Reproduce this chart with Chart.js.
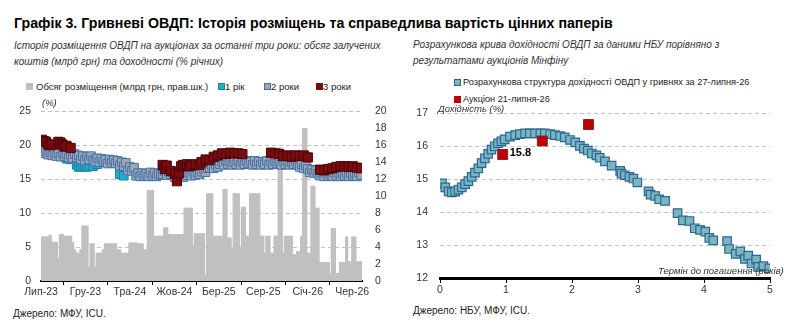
<!DOCTYPE html>
<html>
<head>
<meta charset="utf-8">
<script src="https://cdn.jsdelivr.net/npm/chart.js@4.4.1/dist/chart.umd.min.js"></script>
<style>
  body { margin: 0; width: 800px; height: 328px; background: #fff; position: relative; overflow: hidden;
         font-family: "Liberation Sans", Arial, sans-serif; }
  .t { position: absolute; white-space: nowrap; line-height: 1; color: #000; }
  .title { font-weight: bold; font-size: 14.2px; }
  .sub { font-style: italic; font-size: 10px; line-height: 16px; color: #333; }
  .leg { font-size: 9.5px; color: #222; }
  .legr { font-size: 9.2px; color: #222; }
  .sq { position: absolute; width: 7px; height: 7px; box-sizing: border-box; }
  .src { font-size: 10px; color: #222; }
  .ax { font-style: italic; font-size: 9.5px; color: #333; background: #fff; }
  .box { position: absolute; }
</style>
</head>
<body>
<div class="t title" style="left:14px;top:16px">Графік 3. Гривневі ОВДП: Історія розміщень та справедлива вартість цінних паперів</div>
<div class="t sub" style="left:14px;top:37.5px">Історія розміщення ОВДП на аукціонах за останні три роки: обсяг залучених<br>коштів (млрд грн) та доходності (% річних)</div>
<div class="t sub" style="left:413px;top:36.5px">Розрахункова крива дохідності ОВДП за даними НБУ порівняно з<br>результатами аукціонів Мінфіну</div>

<div class="sq" style="left:26px;top:83px;background:#bfbfbf"></div>
<div class="t leg" style="left:36px;top:81.5px">Обсяг розміщення (млрд грн, прав.шк.)</div>
<div class="sq" style="left:218px;top:83px;background:#1fb0c4;border:1px solid #1f7fa8"></div>
<div class="t leg" style="left:225px;top:81.5px">1 рік</div>
<div class="sq" style="left:264px;top:83px;background:#a6a6a6;border:1px solid #3a72b8"></div>
<div class="t leg" style="left:271px;top:81.5px">2 роки</div>
<div class="sq" style="left:316px;top:83px;background:#7a0c10"></div>
<div class="t leg" style="left:323px;top:81.5px">3 роки</div>

<div class="sq" style="left:454px;top:79px;background:#78b7bd;border:1px solid #2f6496"></div>
<div class="t legr" style="left:463px;top:78px">Розрахункова структура дохідності ОВДП у гривнях за 27-липня-26</div>
<div class="sq" style="left:454px;top:96px;background:#c00000"></div>
<div class="t legr" style="left:463px;top:94.5px">Аукціон 21-липня-26</div>

<div class="box" style="left:0;top:95px;width:400px;height:205px"><canvas id="leftChart"></canvas></div>
<div class="box" style="left:400px;top:95px;width:400px;height:205px"><canvas id="rightChart"></canvas></div>

<div class="t ax" style="left:42px;top:98px;padding-right:3px">(%)</div>
<div class="t ax" style="left:438px;top:103.5px;padding-right:3px">Дохідність (%)</div>
<div class="t ax" style="left:658px;top:266px;background:transparent">Термін до погашення (років)</div>

<div class="t src" style="left:13px;top:308.5px">Джерело: МФУ, ICU.</div>
<div class="t src" style="left:413px;top:305.5px">Джерело: НБУ, МФУ, ICU.</div>

<script>
const FONT = "'Liberation Sans', Arial, sans-serif";

// ліва панель: тижневі аукціони з липня 2023 (індекс = тиждень)
const tickLabels = ["Лип-23", "Гру-23", "Тра-24", "Жов-24", "Бер-25", "Сер-25", "Січ-26", "Чер-26"];
const tickMonths = [0, 5, 10, 15, 20, 25, 30, 35];

// обсяг розміщення, млрд грн (права шкала)
const volume = [
  5.2, 5.2, 5.2, 5.2, 5.4, 4.6, 4.6, 4.6, 2.6, 5.5,
  5.5, 5.3, 5.3, 5.3, 5.3, 4.6, 3.7, 3.3, 3.3, 3.7,
  6.5, 6.5, 6.5, 1.6, 4.4, 4.4, 1.7, 3.3, 3.3, 3.3,
  3.7, 4.4, 4.4, 4.4, 4.4, 4.4, 4.4, 3.7, 3.7, 3.3,
  3.3, 3.3, 3.3, 4.5, 4.5, 4.5, 4.5, 4.4, 4.4, 4.4,
  3.7, 3.7, 10.7, 10.7, 10.7, 5.3, 5.3, 5.3, 5.3, 5.3,
  6.3, 6.3, 5.5, 5.5, 5.5, 5.5, 5.5, 5.5, 5.5, 5.5,
  8.6, 8.6, 8.6, 8.6, 4.2, 5.6, 5.6, 5.6, 5.6, 5.6,
  0.7, 10.3, 10.3, 10.3, 5.3, 5.3, 5.3, 5.3, 5.3, 10.8,
  10.8, 5.1, 5.1, 3.8, 10.3, 10.3, 10.3, 3.8, 8.7, 8.7,
  5.3, 5.3, 10.3, 10.3, 10.3, 10.3, 10.3, 5.3, 5.3, 3.3,
  5.3, 5.3, 3.3, 3.3, 5.3, 5.3, 15.7, 15.7, 3.3, 5.3,
  5.3, 5.3, 5.3, 3.1, 3.1, 3.5, 3.5, 5.3, 18.0, 18.0,
  3.3, 3.3, 11.2, 11.2, 8.6, 8.6, 2.2, 2.2, 2.2, 2.2,
  2.2, 0.9, 6.2, 6.2, 0.9, 0.9, 2.2, 2.2, 2.2, 5.2,
  2.3, 2.3, 5.2, 5.2, 2.3, 2.3, 2.3
];

// дохідність 2-річних паперів, % (по тижнях)
const twoYear = [
  19.3, 18.8, 19.1, 18.6, 19.0, 18.5, 18.9, 18.4, 18.8, 18.3,
  18.9, 18.4, 18.7, 18.2, 18.6, 18.1, 18.7, 18.2, 18.5, 17.9,
  18.4, 17.8, 18.3, 17.9, 18.4, 17.8, 17.6, 18.1, 17.5, 18.0,
  17.6, 17.9, 17.3, 17.9, 17.4, 17.8, 17.3, 17.7, 17.0, 17.5,
  16.9, 17.4, 16.3, 16.8, 16.2, 16.7, 15.5, 15.9, 15.4, 15.9,
  15.5, 15.8, 15.4, 16.0, 15.5, 15.9, 15.4, 15.8, 15.6, 15.7,
  16.2, 15.6, 16.1, 15.7, 16.0, 15.3, 15.8, 15.4, 15.9, 15.3,
  15.7, 15.6, 16.0, 15.5, 16.1, 15.6, 16.0, 15.7, 16.1, 16.5,
  16.0, 16.6, 16.7, 17.1, 16.6, 17.2, 16.8, 17.2, 17.6, 17.1,
  17.7, 17.2, 17.6, 17.1, 17.5, 17.2, 17.7, 17.1, 17.6, 17.2,
  17.7, 17.3, 17.6, 17.1, 17.7, 17.2, 17.6, 17.1, 17.5, 17.2,
  17.7, 17.1, 17.6, 17.2, 17.7, 17.3, 17.6, 17.1, 17.7, 17.2,
  17.6, 17.1, 17.5, 17.2, 17.7, 17.1, 16.8, 17.2, 16.6, 17.0,
  16.5, 16.0, 16.4, 15.9, 16.3, 15.8, 15.5, 15.9, 15.4, 15.9,
  15.5, 15.8, 15.4, 16.0, 15.5, 15.9, 15.4, 15.8, 15.5, 15.9,
  15.4, 15.9, 15.5, 15.8, 15.4, 16.0, 15.6
];

// 1-річні папери: тиждень аукціону та дохідність
const oneYearWeek = [12, 14, 17, 18, 19, 20, 21, 22, 23, 25, 27, 38, 40, 66, 128];
const oneYearValue = [18.0, 17.9, 17.1, 16.8, 16.9, 16.8, 17.0, 16.8, 17.0, 16.9, 17.2, 15.7, 15.5, 15.3, 16.7];

// 3-річні папери
const threeYearWeek = [0, 1, 2, 3, 4, 5, 8, 9, 10, 11, 12, 14,
  59, 60, 61, 63, 65, 66, 67, 68, 69, 70, 71, 72, 73, 75, 77,
  78, 80, 82, 84, 86, 88, 90, 92, 94, 96, 98,
  112, 114, 116, 118, 120, 122, 124, 126, 128, 130,
  136, 138, 140, 142, 144, 146, 148, 150, 152, 154, 156];
const threeYearValue = [20.8, 20.6, 20.5, 20.1, 20.0, 20.1, 20.5, 20.4, 20.1, 19.8, 19.9, 19.6,
  17.1, 16.5, 17.0, 16.2, 15.8, 14.7, 15.9, 16.9, 17.1, 17.0, 17.2, 16.9, 17.0, 17.2, 17.1,
  17.5, 17.9, 17.8, 18.3, 18.5, 18.8, 18.7, 18.9, 18.8, 18.8, 18.7,
  18.9, 18.8, 18.7, 18.4, 18.5, 18.3, 18.5, 18.4, 18.5, 18.2,
  16.4, 16.3, 16.5, 16.6, 16.8, 16.9, 16.9, 16.8, 16.9, 16.7, 16.6];

// права панель: крива НБУ (термін, років / дохідність, %)
const curveTerm = [0.03, 0.08, 0.13, 0.18, 0.23, 0.28, 0.33, 0.38, 0.43, 0.48,
  0.53, 0.58, 0.63, 0.68, 0.73, 0.78, 0.83, 0.88, 0.93, 0.98,
  1.06, 1.14, 1.21, 1.29, 1.36, 1.44, 1.52, 1.59, 1.67, 1.74,
  1.82, 1.89, 1.97, 2.05, 2.12, 2.18, 2.24, 2.30, 2.37, 2.42,
  2.50, 2.60, 2.73, 2.75, 2.80, 2.87, 2.93, 2.99, 3.16, 3.19,
  3.26, 3.32, 3.41, 3.60, 3.68, 3.78, 3.86, 3.94, 4.02, 4.08,
  4.14, 4.35, 4.38, 4.48, 4.55, 4.62, 4.67, 4.72, 4.79, 4.82, 4.90, 4.99];
const curveYield = [14.87, 14.75, 14.63, 14.60, 14.62, 14.68, 14.75, 14.85, 14.94, 15.07,
  15.20, 15.33, 15.49, 15.63, 15.77, 15.90, 16.00, 16.09, 16.15, 16.21,
  16.29, 16.34, 16.37, 16.39, 16.39, 16.39, 16.39, 16.39, 16.37, 16.34,
  16.31, 16.27, 16.19, 16.12, 16.01, 15.93, 15.87, 15.78, 15.72, 15.65,
  15.54, 15.41, 15.25, 15.17, 15.12, 15.07, 15.02, 14.90, 14.63, 14.53,
  14.49, 14.39, 14.34, 13.97, 13.75, 13.73, 13.51, 13.46, 13.41, 13.22,
  13.14, 13.12, 12.88, 12.73, 12.81, 12.58, 12.68, 12.44, 12.56, 12.34, 12.36, 12.29];

// аукціон Мінфіну
const auctionTerm = [0.95, 1.55, 2.25];
const auctionYield = [15.75, 16.16, 16.66];

const WEEKS_PER_MONTH = 52.18 / 12;

const tickFont = { family: FONT, size: 10.5 };

// ---------- ліва панель ----------
new Chart(document.getElementById("leftChart"), {
  data: {
    datasets: [
      {
        type: "scatter",
        label: "3 роки",
        data: threeYearWeek.map((w, i) => ({ x: w + 0.5, y: threeYearValue[i] })),
        pointStyle: "rect",
        pointRadius: 6.5,
        backgroundColor: "#7a0c10",
        borderColor: "#4a0508",
        borderWidth: 1,
        yAxisID: "y",
        order: 1,
      },
      {
        type: "scatter",
        label: "2 роки",
        data: twoYear.map((v, i) => ({ x: i + 0.5, y: v })),
        pointStyle: "rect",
        pointRadius: 6,
        backgroundColor: "#a6a6a6",
        borderColor: "#3a72b8",
        borderWidth: 1,
        yAxisID: "y",
        order: 2,
      },
      {
        type: "scatter",
        label: "1 рік",
        data: oneYearWeek.map((w, i) => ({ x: w + 0.5, y: oneYearValue[i] })),
        pointStyle: "rect",
        pointRadius: 6,
        backgroundColor: "#1fb0c4",
        borderColor: "#1f7fa8",
        borderWidth: 1,
        yAxisID: "y",
        order: 3,
      },
      {
        type: "bar",
        label: "Обсяг розміщення (млрд грн, прав.шк.)",
        data: volume.map((v, i) => ({ x: i + 0.5, y: v })),
        backgroundColor: "#c0c0c0",
        barPercentage: 1,
        categoryPercentage: 1,
        barThickness: 2.6,
        grouped: false,
        yAxisID: "y2",
        order: 4,
      },
    ],
  },
  options: {
    responsive: true,
    maintainAspectRatio: false,
    animation: false,
    events: [],
    layout: { padding: { top: 5, left: 0, right: 0, bottom: 0 }, autoPadding: false },
    plugins: { legend: { display: false }, tooltip: { enabled: false } },
    scales: {
      x: {
        type: "linear",
        min: 0,
        max: 157,
        offset: false,
        afterBuildTicks: (axis) => {
          axis.ticks = tickMonths.map((m) => ({ value: m * WEEKS_PER_MONTH }));
        },
        ticks: {
          autoSkip: false,
          maxRotation: 0,
          padding: 1,
          color: "#333",
          font: tickFont,
          callback: (val, idx) => tickLabels[idx],
        },
        grid: { drawOnChartArea: false, drawTicks: true, tickLength: 4, color: "#000" },
        border: { color: "#000", width: 2 },
        afterFit: (s) => { s.height = 19; },
      },
      y: {
        position: "left",
        min: 0,
        max: 25,
        ticks: { stepSize: 5, padding: 10, color: "#333", font: tickFont },
        grid: { color: "#c4c4c4", drawTicks: false },
        border: { display: false, dash: [4, 3] },
        afterFit: (s) => { s.width = 41; },
      },
      y2: {
        position: "right",
        min: 0,
        max: 20,
        ticks: { stepSize: 2, padding: 5, color: "#333", font: tickFont },
        grid: { display: false },
        border: { display: false },
        afterFit: (s) => { s.width = 38; },
      },
    },
  },
});

// ---------- права панель ----------
const labelPlugin = {
  id: "auctionLabel",
  afterDatasetsDraw(chart) {
    const meta = chart.getDatasetMeta(0);
    const pt = meta.data[0];
    const ctx = chart.ctx;
    ctx.save();
    ctx.font = "bold 11px " + FONT;
    ctx.fillStyle = "#000";
    ctx.textBaseline = "middle";
    ctx.fillText(auctionYield[0].toFixed(1), pt.x + 7, pt.y - 2);
    ctx.restore();
  },
};

new Chart(document.getElementById("rightChart"), {
  type: "scatter",
  data: {
    datasets: [
      {
        label: "Аукціон 21-липня-26",
        data: auctionTerm.map((t, i) => ({ x: t, y: auctionYield[i] })),
        pointStyle: "rect",
        pointRadius: 7,
        backgroundColor: "#c00000",
        borderColor: "#8a2020",
        borderWidth: 1,
        order: 1,
      },
      {
        label: "Розрахункова структура дохідності ОВДП у гривнях за 27-липня-26",
        data: curveTerm.map((t, i) => ({ x: t, y: curveYield[i] })),
        pointStyle: "rect",
        pointRadius: 6,
        backgroundColor: "#78b7bd",
        borderColor: "#2f6496",
        borderWidth: 1.2,
        order: 2,
      },
    ],
  },
  options: {
    responsive: true,
    maintainAspectRatio: false,
    animation: false,
    events: [],
    layout: { padding: { top: 12, left: 0, right: 30, bottom: 0 }, autoPadding: false },
    plugins: { legend: { display: false }, tooltip: { enabled: false } },
    scales: {
      x: {
        type: "linear",
        min: 0,
        max: 5,
        ticks: { stepSize: 1, padding: 1, maxRotation: 0, color: "#333", font: tickFont },
        grid: { drawOnChartArea: false, drawTicks: true, tickLength: 5, color: "#000" },
        border: { color: "#000", width: 3 },
        afterFit: (s) => { s.height = 22; },
      },
      y: {
        min: 12,
        max: 17,
        ticks: { stepSize: 1, padding: 12, color: "#333", font: tickFont },
        grid: { color: "#c4c4c4", drawTicks: false },
        border: { display: false, dash: [4, 3] },
        afterFit: (s) => { s.width = 40; },
      },
    },
  },
  plugins: [labelPlugin],
});
</script>
</body>
</html>
